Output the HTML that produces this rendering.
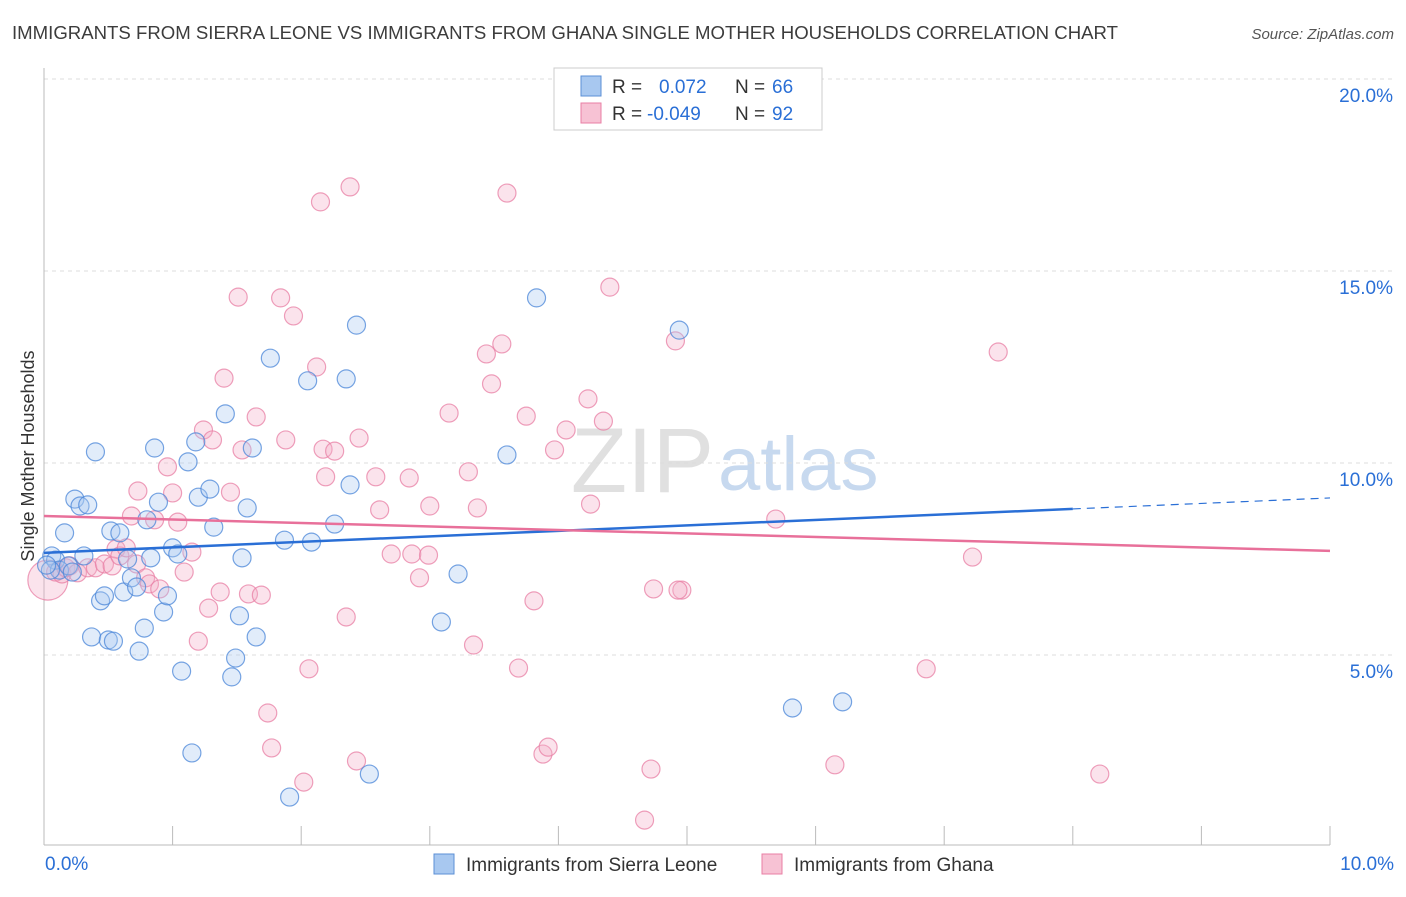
<!DOCTYPE html>
<html><head><meta charset="utf-8"><style>
body{margin:0;background:#fff;font-family:"Liberation Sans",sans-serif}
svg text{font-family:"Liberation Sans",sans-serif}
</style></head><body>
<svg id="chart" width="1406" height="892" xmlns="http://www.w3.org/2000/svg">
<text x="12" y="39" font-size="18" fill="#3c3c3c" textLength="1106" lengthAdjust="spacingAndGlyphs">IMMIGRANTS FROM SIERRA LEONE VS IMMIGRANTS FROM GHANA SINGLE MOTHER HOUSEHOLDS CORRELATION CHART</text>
<text x="1394" y="39" font-size="15" fill="#555" text-anchor="end" font-style="italic">Source: ZipAtlas.com</text>
<text transform="translate(34,456) rotate(-90)" font-size="18" fill="#333" text-anchor="middle">Single Mother Households</text>
<text x="714" y="492" font-size="92" fill="#e0e0e0" text-anchor="end" font-family="Liberation Serif">ZIP</text>
<text x="718" y="490" font-size="76" fill="#c7d9ef">atlas</text>
<g id="grid"></g><g id="axes"></g><g id="pts"></g><g id="trend"></g>
<g>
<rect x="554" y="68" width="268" height="62" fill="#fff" stroke="#ccc"/>
<rect x="581" y="76" width="20" height="20" fill="#a8c8f0" stroke="#5b8fd6"/>
<rect x="581" y="103" width="20" height="20" fill="#f7c2d4" stroke="#e87fa4"/>
<text x="612" y="93" font-size="19" fill="#333">R = </text><text x="659" y="93" font-size="19" fill="#2a6fd6">0.072</text>
<text x="735" y="93" font-size="19" fill="#333">N = </text><text x="772" y="93" font-size="19" fill="#2a6fd6">66</text>
<text x="612" y="120" font-size="19" fill="#333">R = </text><text x="647" y="120" font-size="19" fill="#2a6fd6">-0.049</text>
<text x="735" y="120" font-size="19" fill="#333">N = </text><text x="772" y="120" font-size="19" fill="#2a6fd6">92</text>
</g>
<g>
<rect x="434" y="854" width="20" height="20" fill="#a8c8f0" stroke="#5b8fd6"/>
<text x="466" y="871" font-size="19" fill="#333">Immigrants from Sierra Leone</text>
<rect x="762" y="854" width="20" height="20" fill="#f7c2d4" stroke="#e87fa4"/>
<text x="794" y="871" font-size="19" fill="#333">Immigrants from Ghana</text>
</g>
</svg>
<script>
const xTicks=[0,1,2,3,4,5,6,7,8,9,10];
const yTicks=[5,10,15,20];
const yTickLabels=["5.0%","10.0%","15.0%","20.0%"];
const xLabels=["0.0%","10.0%"];
const blueX=[0.06,0.09,0.16,0.24,0.28,0.34,0.31,0.40,0.44,0.47,0.37,0.50,0.54,0.52,0.59,0.62,0.65,0.68,0.72,0.74,0.78,0.80,0.83,0.86,0.89,0.93,0.96,1.00,1.04,1.07,1.12,1.15,1.18,1.20,1.29,1.32,1.41,1.46,1.49,1.52,1.54,1.58,1.62,1.65,1.76,1.87,1.91,2.05,2.08,2.26,2.35,2.38,2.43,2.53,3.09,3.22,3.60,3.83,4.94,5.82,6.21,0.12,0.19,0.22,0.05,0.02];
const blueY=[7.58,7.47,8.18,9.06,8.88,8.91,7.58,10.29,6.41,6.54,5.47,5.39,5.36,8.23,8.18,6.64,7.50,7.01,6.77,5.10,5.70,8.52,7.53,10.39,8.98,6.12,6.54,7.79,7.63,4.58,10.03,2.45,10.55,9.11,9.32,8.33,11.28,4.43,4.92,6.02,7.53,8.83,10.39,5.47,12.73,7.99,1.30,12.14,7.94,8.41,12.19,9.43,13.59,1.90,5.86,7.11,10.21,14.30,13.46,3.62,3.78,7.21,7.32,7.16,7.21,7.34];
const pinkX=[0.03,0.09,0.14,0.17,0.20,0.26,0.34,0.40,0.47,0.53,0.56,0.59,0.64,0.68,0.72,0.73,0.79,0.82,0.86,0.90,0.96,1.00,1.04,1.09,1.15,1.20,1.24,1.28,1.31,1.37,1.40,1.45,1.51,1.54,1.59,1.65,1.69,1.74,1.77,1.84,1.88,1.94,2.02,2.06,2.12,2.15,2.17,2.19,2.26,2.35,2.38,2.43,2.45,2.58,2.61,2.70,2.84,2.86,2.92,2.99,3.00,3.15,3.30,3.34,3.37,3.44,3.48,3.56,3.60,3.69,3.75,3.81,3.88,3.92,3.97,4.06,4.23,4.25,4.35,4.40,4.67,4.72,4.74,4.91,4.96,5.69,6.15,6.86,7.22,7.42,8.21,4.93];
const pinkY=[6.95,7.16,7.11,7.27,7.32,7.14,7.27,7.27,7.37,7.32,7.76,7.58,7.79,8.62,7.37,9.27,7.01,6.85,8.52,6.72,9.90,9.22,8.46,7.16,7.68,5.36,10.86,6.22,10.60,6.64,12.21,9.24,14.32,10.34,6.59,11.20,6.56,3.49,2.58,14.30,10.60,13.83,1.69,4.64,12.50,16.80,10.36,9.64,10.31,5.99,17.19,2.24,10.65,9.64,8.78,7.63,9.61,7.63,7.01,7.60,8.88,11.30,9.77,5.26,8.83,12.84,12.06,13.10,17.03,4.66,11.22,6.41,2.42,2.60,10.34,10.86,11.67,8.93,11.09,14.58,0.70,2.03,6.72,13.18,6.69,8.54,2.14,4.64,7.55,12.89,1.90,6.69];
const blueTrend=[7.66,9.09];
const pinkTrend=[8.62,7.71];
const NS="http://www.w3.org/2000/svg";
const X0=44,X1=1330,Y0=847,PPY=38.4;
function sx(v){return X0+(X1-X0)*v/10;}
function sy(v){return Y0-v*PPY;}
function mk(t,a,p){const e=document.createElementNS(NS,t);for(const k in a)e.setAttribute(k,a[k]);p.appendChild(e);return e;}
const grid=document.getElementById('grid'),axes=document.getElementById('axes'),pts=document.getElementById('pts'),trend=document.getElementById('trend');
yTicks.forEach((t,i)=>{
 const l=mk('line',{x1:X0,x2:1394,y1:sy(t),y2:sy(t),stroke:'#ddd','stroke-dasharray':'4,4'},grid);
 
 
 const tx=mk('text',{x:1393,y:sy(t)+23,'font-size':19,fill:'#2a6fd6','text-anchor':'end'},axes);
 tx.textContent=yTickLabels[i];
 
 
});
const ax=mk('line',{x1:X0,x2:X0,y1:68,y2:845,stroke:'#bbb'},axes);


const bx=mk('line',{x1:X0,x2:X1,y1:845,y2:845,stroke:'#bbb'},axes);


xTicks.forEach(t=>{
 const l=mk('line',{x1:sx(t),x2:sx(t),y1:826,y2:845,stroke:'#bbb'},axes);
 
 
});
[[0,'start',45],[10,'end',1394]].forEach((d,i)=>{
 const tx=mk('text',{x:d[2],y:870,'font-size':19,fill:'#2a6fd6','text-anchor':d[1]},axes);
 tx.textContent=xLabels[i];
 
 
});
function dots(xs,ys,fill,stroke,name,big){
 xs.forEach((x,i)=>{
  const r=(i===big)?20:9;
  const c=mk('circle',{cx:sx(x),cy:sy(ys[i]),r:r,fill:fill,'fill-opacity':0.35,stroke:stroke,'stroke-width':1.2,'stroke-opacity':0.75},pts);
  
  
 });
}
dots(pinkX,pinkY,'#f4b0c8','#e87fa4','ghana-point',0);
dots(blueX,blueY,'#a8c8f0','#4a86d8','sierra-leone-point',-1);
const bxEnd=8;
const b1=mk('line',{x1:sx(0),y1:sy(blueTrend[0]),x2:sx(bxEnd),y2:sy(blueTrend[0]+(blueTrend[1]-blueTrend[0])*bxEnd/10),stroke:'#2a6fd6','stroke-width':2.5},trend);


const b2=mk('line',{x1:sx(bxEnd),y1:sy(blueTrend[0]+(blueTrend[1]-blueTrend[0])*bxEnd/10),x2:sx(10),y2:sy(blueTrend[1]),stroke:'#2a6fd6','stroke-width':1.2,'stroke-dasharray':'8,6'},trend);


const p1=mk('line',{x1:sx(0),y1:sy(pinkTrend[0]),x2:sx(10),y2:sy(pinkTrend[1]),stroke:'#e8709a','stroke-width':2.5},trend);


</script>
</body></html>
